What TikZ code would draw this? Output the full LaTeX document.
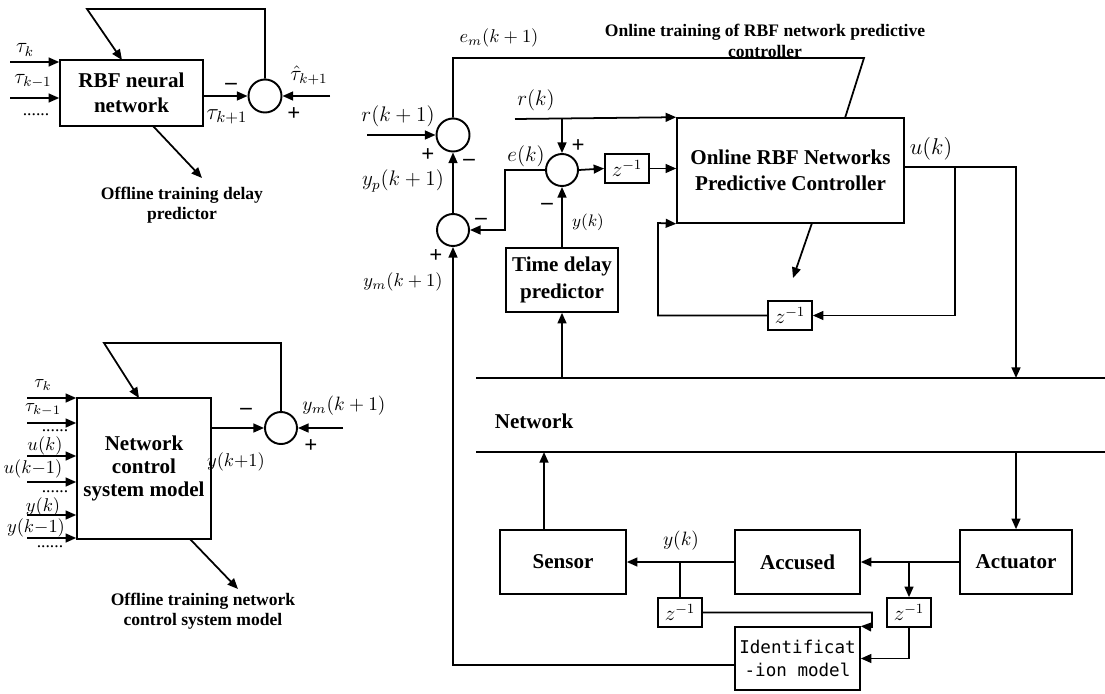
\RequirePackage{fix-cm}
\documentclass[tikz,border=0pt]{standalone}
\usepackage{fontspec}
\setmainfont{Liberation Serif}
\newfontfamily\idfont{DejaVu Sans Mono}
\usetikzlibrary{arrows.meta,calc}
\newlength\pxu
\setlength\pxu{0.02cm}
\tikzset{
  wire/.style={line width=1pt},
  arr/.style={wire,-{Triangle[length=6pt,width=5pt]}},
  box/.style={draw,line width=0.9pt,inner sep=0pt,align=center,font=\bfseries\fontsize{12}{14}\selectfont},
  zbox/.style={draw,line width=0.9pt,inner sep=0pt,minimum width=44\pxu,minimum height=29\pxu,font=\fontsize{12}{14}\selectfont},
  sumc/.style={circle,draw,line width=1.1pt,inner sep=0pt,minimum size=33\pxu},
  lbl/.style={inner sep=0pt,font=\fontsize{12}{14}\selectfont},
  slbl/.style={inner sep=0pt,font=\fontsize{10.5}{12}\selectfont},
  dots/.style={inner sep=0pt,font=\fontsize{10}{12}\selectfont},
  sign/.style={inner sep=0pt,font=\bfseries\fontsize{13}{14}\selectfont},
  note/.style={inner sep=0pt,align=center,font=\bfseries\fontsize{10}{11.5}\selectfont},
}
\begin{document}
\begin{tikzpicture}[x=0.02cm,y=-0.02cm]
\useasboundingbox (0,0) rectangle (1105,693);

% ---------- offline delay predictor ----------
\node[box,minimum width=143\pxu,minimum height=66\pxu] (rbf) at (131.5,93) {RBF neural\\network};
\node[sumc] (s1) at (265,96) {};
\coordinate (i1a) at (10,62);
\coordinate (i1b) at (10,98);
\draw[arr] (i1a) -- (i1a -| rbf.west);
\draw[arr] (i1b) -- (i1b -| rbf.west);
\node[lbl] (t1a) at (25,50) {$\tau_k$};
\node[lbl] (t1b) at (33,81) {$\tau_{k-1}$};
\node[dots] (d1) at (36,115) {......};
\draw[arr] (s1.west -| rbf.east) -- (s1.west);
\node[sign] (m1) at (231,86) {--};
\node[lbl,font=\fontsize{13}{15}\selectfont] (t1c) at (227,117) {$\tau_{k+1}$};
\coordinate (i1c) at (330,96);
\draw[arr] (i1c) -- (s1.east);
\node[lbl] (t1d) at (309,75) {$\hat{\tau}_{k+1}$};
\node[sign] (p1) at (294,114) {+};
\coordinate (fb1) at (122,60);
\draw[arr] (s1.north) |- (87,9) -- (fb1);
\coordinate (o1) at (153,126);
\coordinate (o1e) at (202,178);
\draw[arr] (o1) -- (o1e);
\node[note] (n1) at (182,205) {Offline training delay\\predictor};

% ---------- offline system model ----------
\node[box,minimum width=134\pxu,minimum height=141\pxu,font=\bfseries\fontsize{12}{13.3}\selectfont] (ncs) at (144,468.5) {Network\\control\\system model};
\node[sumc,minimum size=32\pxu] (s2) at (281,428) {};
\foreach \yy/\nm in {398/a,423/b,456/c,482/d,515/e,538/f}{
  \coordinate (i2\nm) at (27,\yy);
  \draw[arr] (i2\nm) -- (i2\nm -| ncs.west);
}
\node[slbl] (t2a) at (43,385) {$\tau_k$};
\node[slbl] (t2b) at (43,410) {$\tau_{k-1}$};
\node[dots] (d2a) at (55,431) {......};
\node[slbl] (u2a) at (45,446) {$u(k)$};
\node[slbl] (u2b) at (33,469) {$u(k{-}1)$};
\node[dots] (d2b) at (55,492) {......};
\node[slbl] (y2a) at (43,507) {$y(k)$};
\node[slbl] (y2b) at (36,528) {$y(k{-}1)$};
\node[dots] (d2c) at (50,547) {......};
\draw[arr] (s2.west -| ncs.east) -- (s2.west);
\node[sign] (m2) at (246,411) {--};
\node[slbl] (y2c) at (236,462) {$y(k{+}1)$};
\coordinate (i2g) at (343,428);
\draw[arr] (i2g) -- (s2.east);
\node[slbl,font=\fontsize{11}{13}\selectfont] (ym2) at (344,406) {$y_m(k+1)$};
\node[sign] (p2) at (311,446) {+};
\coordinate (fb2) at (139,398);
\draw[arr] (s2.north) |- (104,343) -- (fb2);
\coordinate (o2) at (190,539);
\coordinate (o2e) at (238,589);
\draw[arr] (o2) -- (o2e);
\node[note] (n2) at (203,611) {Offline training network\\control system model};

% ---------- online predictive control loop ----------
\node[sumc] (sA) at (453,135) {};
\node[sumc,minimum size=32\pxu] (sB) at (453,230) {};
\node[sumc,minimum size=32\pxu] (sC) at (562,170) {};
\node[zbox] (z1) at (627,168.5) {$z^{-1}$};
\node[box,minimum width=227\pxu,minimum height=105\pxu,font=\bfseries\fontsize{12}{15}\selectfont] (ctrl) at (790.5,170.5) {Online RBF Networks\\Predictive Controller};
\node[box,minimum width=112\pxu,minimum height=64\pxu,font=\bfseries\fontsize{12}{15}\selectfont] (tdp) at (562,280) {Time delay\\predictor};
\node[zbox] (z2) at (790,315.5) {$z^{-1}$};

% network bus
\coordinate (ntl) at (476,378);
\coordinate (ntr) at (1105,378);
\coordinate (nbl) at (476,452);
\coordinate (nbr) at (1105,452);
\draw[wire] (ntl) -- (ntr);
\draw[wire] (nbl) -- (nbr);
\node[box,draw=none,anchor=west] (net) at (494,421) {Network};

% plant side
\node[box,minimum width=126\pxu,minimum height=64\pxu] (sensor) at (563,562) {Sensor};
\node[box,minimum width=125\pxu,minimum height=64\pxu] (accused) at (797.5,562) {Accused};
\node[box,minimum width=112\pxu,minimum height=64\pxu] (actuator) at (1016,562) {Actuator};
\node[zbox] (z3) at (680,612.5) {$z^{-1}$};
\node[zbox] (z4) at (909,612.5) {$z^{-1}$};
\node[box,minimum width=125\pxu,minimum height=63\pxu,font=\idfont\fontsize{10}{13.5}\selectfont] (idm) at (797.5,658.5) {Identificat\\-ion model};

% reference and model error
\coordinate (rk1) at (367,135);
\draw[arr] (rk1) -- (sA.west);
\node[lbl] (lrk1) at (398,116) {$r(k+1)$};
\node[sign] (pA) at (428,155) {+};
\node[sign] (mA) at (469,162) {--};
\node[lbl] (lyp) at (403,181) {$y_p(k+1)$};
\coordinate (emend) at (845,118);
\draw[wire] (sA.north) |- (864,58) -- (emend);
\node[slbl] (lem) at (499,38) {$e_m(k+1)$};
\node[note] (n3) at (765,41) {Online training of RBF network predictive\\controller};
\draw[arr] (sB.north) -- (sA.south);
\node[sign] (mB) at (481,221) {--};
\node[sign] (pB) at (436,256) {+};
\node[slbl] (lym) at (403,282) {$y_m(k+1)$};
\draw[arr] ([yshift=-6.5\pxu]idm.west) -| (sB.south);
\draw[arr] (sC.west) -- ++(-40,0) |- (sB.east);
\node[lbl] (lek) at (526,156) {$e(k)$};

% r(k) feed
\coordinate (rk) at (515,119);
\draw[arr] (rk) -- (ctrl.north west);
\node[lbl] (lrk) at (536,100) {$r(k)$};
\draw[arr] (sC.north |- rk) -- (sC.north);
\node[sign] (pC) at (578,146) {+};
\draw[arr] (sC.east) -- (z1.west);
\draw[arr] (z1.east) -- (z1.east -| ctrl.west);
\draw[arr] (tdp.north) -- (sC.south);
\node[sign] (mC) at (547,206) {--};
\node[slbl,font=\fontsize{9.5}{11}\selectfont] (lyk) at (588,222) {$y(k)$};
\draw[arr] (tdp.south |- ntl) -- (tdp.south);

% control output and its delayed feedback
\coordinate (uk) at (1016,167);
\draw[arr] ([yshift=3.5\pxu]ctrl.east) -- (uk) -- (uk |- ntl);
\node[lbl,font=\fontsize{13}{15}\selectfont] (luk) at (931,149) {$u(k)$};
\coordinate (ub) at (955,167);
\draw[arr] (ub) |- (z2.east);
\draw[arr] (z2.west) -| (658,223) -- (ctrl.south west);
\coordinate (tr1) at (812,223);
\coordinate (tr2) at (793,278);
\draw[arr] (tr1) -- (tr2);

% plant connections
\draw[arr] ([xshift=-19\pxu]sensor.north) -- ([xshift=-19\pxu]sensor.north |- nbl);
\draw[arr] (actuator.north |- nbl) -- (actuator.north);
\draw[arr] (actuator.west) -- (accused.east);
\coordinate (ab) at (909,562);
\draw[arr] (ab) -- (z4.north);
\draw[arr] (z4.south) |- (idm.east);
\draw[arr] (accused.west) -- (sensor.east);
\coordinate (sb) at (680,562);
\draw[wire] (sb) -- (z3.north);
\node[slbl,font=\fontsize{11}{13}\selectfont] (lyk2) at (681,541) {$y(k)$};
\coordinate (zc) at (872,627);
\draw[arr] (z3.east) -| (zc) -- (idm.north east);
\end{tikzpicture}
\end{document}
